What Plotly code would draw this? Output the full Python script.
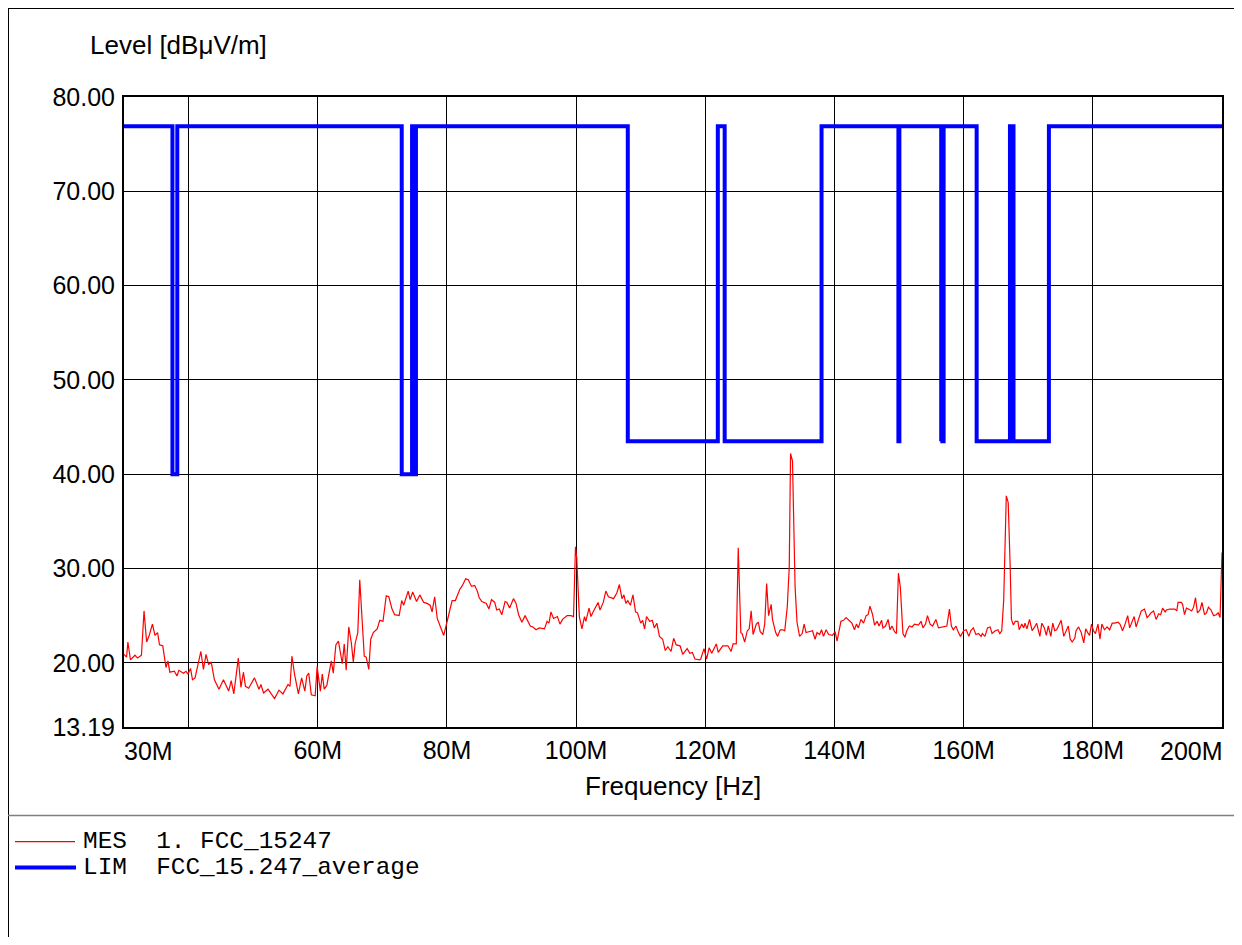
import plotly.graph_objects as go

# ---------------- data ----------------
freq_mhz = [
    30.0, 30.4, 30.6, 31.0, 31.7, 32.1, 32.7, 33.1, 33.5, 33.9, 34.4, 34.8, 35.2, 35.5, 36.0, 36.5, 36.8, 37.1,
    37.8, 38.2, 38.5, 39.2, 39.6, 39.9, 40.3, 40.6, 41.0, 41.5, 41.9, 42.3, 42.7, 43.1, 43.5, 44.0, 44.7, 45.4,
    46.2, 46.6, 47.0, 47.7, 48.1, 48.5, 48.8, 49.3, 50.2, 50.9, 51.2, 51.6, 52.3, 53.3, 54.0, 54.6, 55.4, 55.7,
    56.0, 56.4, 57.0, 57.5, 58.0,
    58.3, 58.6, 59.0, 59.6, 59.9, 60.4, 60.7, 61.0, 61.4, 62.1, 62.4, 62.8, 63.2, 63.8, 64.1, 64.4, 64.8, 65.2,
    65.5, 65.8, 66.2, 66.5, 67.2, 67.5, 67.9, 68.2, 68.6, 69.2, 69.6, 70.1, 70.6, 71.0, 71.5, 71.9, 72.6, 73.0,
    73.3, 74.0, 74.3, 74.7, 75.3, 75.8, 76.4, 76.9, 77.4, 77.7, 78.1, 78.5, 79.0, 79.5, 80.0, 80.8, 81.3, 82.0,
    82.4, 82.9, 83.3, 83.8, 84.3, 84.7,
    85.0, 85.4, 86.1, 86.5, 86.9, 87.4, 87.7, 88.1, 88.5, 89.0, 89.3, 89.7, 90.3, 90.7, 91.1, 91.6, 92.1, 92.4,
    92.9, 93.3, 93.8, 94.3, 95.1, 95.5, 95.8, 96.1, 96.5, 97.1, 97.5, 97.9, 98.6, 99.2, 99.6, 99.9, 100.1, 100.5,
    100.9, 101.3, 101.5, 102.0, 102.3, 102.7, 103.4, 103.7, 104.2, 104.6, 105.0, 105.8, 106.3, 106.7, 107.1,
    107.4, 107.7, 108.0, 108.4, 108.8, 109.2, 109.5, 110.0, 110.3, 110.6, 110.9, 111.4, 111.8, 112.1, 112.5,
    112.9, 113.4, 113.8, 114.2, 114.7, 115.1, 115.5, 116.1, 116.5, 117.2, 117.6, 118.0, 118.4, 119.1, 119.3,
    119.8, 120.2, 120.6, 121.0, 121.7, 122.0, 122.7, 123.5, 124.0, 124.3, 124.8, 125.1, 125.5, 125.7, 126.1,
    126.5, 126.8, 127.1, 127.4, 127.9, 128.2, 128.5, 128.9, 129.2, 129.5, 129.8, 130.2, 130.4, 130.9, 131.2,
    131.6, 132.0, 132.3, 132.7, 133.0, 133.2, 133.5, 133.9, 134.2, 134.6, 135.0, 135.3, 135.6, 136.6, 137.0,
    137.3, 137.7, 138.0, 138.3, 138.7, 139.1, 139.7, 140.1, 140.4,
    141.0, 141.4, 141.8, 142.3, 142.7, 143.1, 143.4, 143.7, 144.1, 144.5, 144.9, 145.2, 145.5, 145.9, 146.2,
    146.6, 146.9, 147.3, 147.5, 147.9, 148.3, 148.6, 148.9, 149.3, 149.6, 149.9, 150.2, 150.6, 150.9, 151.2,
    151.6, 152.0, 152.4, 153.0, 153.4, 153.7, 154.1, 154.4, 154.8, 155.2, 155.7, 156.1, 156.7, 157.4, 157.8,
    158.1, 158.4, 158.8, 159.2, 159.5, 160.0, 160.4, 160.8, 161.1, 161.5, 161.9, 162.3, 162.7, 162.9, 163.3,
    163.7, 164.1, 164.4, 164.9, 165.3, 165.6, 165.9, 166.2, 166.6, 166.9, 167.2, 167.4, 167.7, 168.0, 168.4,
    168.6, 169.0, 169.3, 169.5, 169.8,
    170.2, 170.6, 171.0, 171.3, 171.8, 172.1, 172.5, 172.8, 173.1, 173.5, 173.8, 174.1, 174.4, 174.7, 175.1,
    175.5, 175.8, 176.2, 176.5, 176.8, 177.2, 177.4, 177.8, 178.2, 178.6, 178.9, 179.2, 179.5, 179.8, 180.1,
    180.4, 180.8, 181.1, 181.4, 181.8, 182.2, 182.6, 183.0, 183.4, 183.9, 184.2, 184.6, 185.0, 185.4, 185.7,
    186.0, 186.4, 186.7, 187.1, 187.5, 188.0, 188.4, 188.7, 189.0, 189.4, 189.8, 190.2, 190.5, 190.8, 191.2,
    191.4, 191.9, 192.4, 192.7, 193.0, 193.2, 193.7, 193.9, 194.2, 194.5, 194.8, 195.3, 195.6, 195.9, 196.2,
    196.6, 196.9, 197.3, 197.6, 197.9, 198.3, 198.7, 199.1, 199.4, 199.7, 200.0,
]
level_dbuv = [
    20.9, 20.6, 22.2, 20.3, 20.8, 20.5, 20.8, 25.5, 22.2, 22.9, 24.1, 22.9, 23.2, 21.9, 21.8, 19.5, 20.2, 19.0,
    19.1, 18.6, 19.2, 18.9, 19.1, 18.8, 19.4, 18.2, 18.4, 20.0, 21.2, 19.3, 20.9, 19.8, 20.1, 18.2, 17.2, 18.2,
    17.0, 18.1, 16.7, 20.5, 17.4, 19.0, 17.5, 17.3, 18.4, 17.2, 17.7, 16.8, 17.2, 16.2, 17.1, 16.7, 17.7, 17.5,
    20.7, 18.8, 16.7, 18.4, 17.0,
    18.6, 18.9, 16.6, 16.5, 19.6, 17.0, 18.8, 17.2, 17.6, 20.2, 18.9, 21.9, 22.3, 19.9, 22.0, 19.2, 23.8, 22.1,
    20.1, 22.1, 23.2, 28.8, 20.7, 20.6, 19.3, 22.5, 23.2, 23.6, 24.5, 24.4, 27.1, 27.0, 25.7, 25.1, 25.0, 26.6,
    26.1, 27.6, 26.7, 27.5, 26.5, 27.2, 26.4, 26.3, 26.1, 25.4, 27.0, 24.7, 23.8, 22.9, 24.3, 26.6, 26.6, 27.8,
    28.2, 28.9, 28.8, 28.1, 28.2, 27.6,
    26.9, 26.5, 26.3, 25.7, 26.7, 26.4, 25.6, 25.7, 25.1, 26.5, 26.4, 25.8, 26.8, 26.3, 25.1, 24.3, 25.0, 24.6,
    23.9, 23.8, 23.5, 23.7, 23.6, 24.4, 24.2, 25.4, 24.7, 24.9, 24.1, 24.6, 25.0, 25.0, 24.9, 32.3, 31.1, 24.9,
    23.6, 24.9, 24.4, 25.8, 24.9, 25.5, 26.4, 25.6, 26.4, 27.6, 27.0, 26.8, 27.4, 28.3, 26.8,
    27.2, 26.3, 26.6, 26.1, 27.2, 25.4, 25.3, 24.2, 24.5, 23.6, 24.9, 24.4, 24.5, 23.7, 24.2,
    22.8, 22.5, 21.3, 21.7, 21.2, 22.6, 21.9, 21.8, 20.9, 21.5, 21.0, 21.1, 20.4, 20.3, 20.4,
    21.5, 20.4, 21.6, 21.0, 22.0, 21.1, 21.8, 21.8, 21.2, 22.0, 22.0, 32.2, 23.2, 23.1, 22.2,
    23.4, 23.6, 25.5, 23.0, 24.1, 24.3, 23.3, 23.0, 24.1, 28.4, 25.0, 26.2, 24.6, 23.2, 22.8,
    23.5, 23.5, 23.4, 26.0, 30.2, 42.2, 41.4, 28.1, 24.3, 22.8, 23.1, 24.1, 23.2, 23.4, 22.5,
    23.2, 23.0, 23.5, 22.8, 23.5, 23.0, 22.9, 23.3, 22.3,
    24.4, 24.5, 24.8, 24.4, 24.2, 23.5, 24.1, 23.7, 24.6, 24.2, 25.0, 25.1, 26.0, 25.1, 24.0,
    24.4, 23.9, 24.5, 23.7, 23.9, 24.6, 23.5, 23.9, 23.3, 23.1, 29.5, 28.0, 23.1, 22.7, 23.4,
    23.9, 23.8, 24.1, 24.0, 24.4, 23.7, 24.1, 25.0, 24.1, 23.9, 24.6, 23.7, 23.8, 23.9, 25.7,
    23.9, 23.5, 23.9, 23.2, 22.8, 23.4, 23.5, 22.8, 23.4, 23.7, 23.0, 23.1, 22.8, 23.1, 22.8,
    23.7, 23.8, 23.1, 23.4, 23.5, 23.1, 23.4, 26.6, 37.7, 37.0, 30.3, 24.6, 24.0, 24.4, 24.4,
    23.5, 24.1, 23.7, 24.2, 23.6,
    24.6, 23.4, 23.8, 24.2, 22.8, 24.2, 23.7, 22.9, 23.9, 22.8, 24.2, 23.4, 23.5, 23.9, 24.5,
    22.8, 23.2, 23.9, 22.5, 22.2, 22.6, 23.4, 23.8, 23.2, 22.1, 23.6, 23.2, 22.9, 24.1, 23.4,
    23.1, 24.1, 22.5, 24.1, 23.5, 23.8, 23.5, 24.2, 24.2, 24.3, 24.1, 23.4, 24.1, 25.0, 23.7,
    24.2, 24.9, 23.8, 24.8, 25.5, 25.7, 24.8, 25.0, 25.3, 25.5, 24.6, 25.2, 25.1, 25.8, 25.4,
    25.6, 25.7, 25.7, 25.7, 25.5, 26.4, 26.4, 26.2, 25.1, 25.8, 25.7, 25.5, 25.9, 26.9, 25.3,
    25.6, 26.4, 25.1, 25.3, 25.9, 25.6, 25.0, 25.1, 25.3, 24.8, 31.7,
]

# limit line (FCC 15.247 average, restricted bands)
limit_top = 76.9
band_start = [37.5, 73.0, 74.8, 108.0, 123.0, 149.9, 156.52475, 156.7, 162.0125, 167.72]
band_stop = [38.25, 74.6, 75.2, 121.94, 138.0, 150.05, 156.52525, 156.9, 167.17, 173.2]
band_level = [40.0, 40.0, 40.0, 43.5, 43.5, 43.5, 43.5, 43.5, 43.5, 43.5]

x_range = [30, 200]
y_range = [13.19, 80]
y_tick_vals = [13.19, 20, 30, 40, 50, 60, 70, 80]
y_tick_text = ["13.19", "20.00", "30.00", "40.00", "50.00", "60.00", "70.00", "80.00"]
x_grid_vals = [40, 60, 80, 100, 120, 140, 160, 180]
x_tick_text = ["", "60M", "80M", "100M", "120M", "140M", "160M", "180M"]
x_edge_vals = [30, 200]
x_edge_text = ["30M", "200M"]
x_edge_anchor = ["left", "right"]
x_edge_shift = [-2, 3]

legend_names = ["MES\u00a0\u00a01.\u00a0FCC_15247", "LIM\u00a0\u00a0FCC_15.247_average"]

# ---------------- layout geometry ----------------
W, H = 1234, 929
ML, MR, MT, MB = 116, 20, 89, 210
PW, PH = W - ML - MR, H - MT - MB


def pxx(x):
    return (x - ML) / PW


def pyy(y):
    return (H - MB - y) / PH


# build limit polyline
lim_x = [x_range[0]]
lim_y = [limit_top]
for a, b, lev in zip(band_start, band_stop, band_level):
    lim_x += [a, a, b, b]
    lim_y += [limit_top, lev, lev, limit_top]
lim_x.append(x_range[1])
lim_y.append(limit_top)

SANS = "Liberation Sans, Arial, sans-serif"
MONO = "Liberation Mono, Courier New, monospace"

fig = go.Figure()
fig.add_trace(go.Scatter(x=freq_mhz, y=level_dbuv, mode="lines",
                         line=dict(color="#ff0000", width=1.2), showlegend=False))
fig.add_trace(go.Scatter(x=lim_x, y=lim_y, mode="lines",
                         line=dict(color="#0000ff", width=4), showlegend=False))

axis_common = dict(showgrid=True, gridcolor="#000000", gridwidth=1, zeroline=False,
                   showline=True, mirror=True, linecolor="#000000", linewidth=2,
                   ticks="", tickfont=dict(family=SANS, size=25, color="#000000"))

fig.update_xaxes(range=x_range, tickmode="array", tickvals=x_grid_vals, ticktext=x_tick_text,
                 ticklabelstandoff=0, **axis_common)
fig.update_yaxes(range=y_range, tickmode="array", tickvals=y_tick_vals, ticktext=y_tick_text,
                 ticklabelstandoff=2, **axis_common)

annotations = []
for xv, txt, anc, sh in zip(x_edge_vals, x_edge_text, x_edge_anchor, x_edge_shift):
    annotations.append(dict(x=xv, xref="x", y=0, yref="paper", text=txt, showarrow=False,
                            xanchor=anc, yanchor="middle", yshift=-23.5, xshift=sh,
                            font=dict(family=SANS, size=25, color="#000000")))
annotations.append(dict(x=pxx(80), y=pyy(37), xref="paper", yref="paper", text="Level [dBμV/m]",
                        showarrow=False, xanchor="left", yanchor="middle",
                        font=dict(family=SANS, size=26, color="#000000")))
annotations.append(dict(x=0.5, y=pyy(778), xref="paper", yref="paper", text="Frequency [Hz]",
                        showarrow=False, xanchor="center", yanchor="middle",
                        font=dict(family=SANS, size=26, color="#000000")))
leg_y = [833.6, 859.3]
for name, yy in zip(legend_names, leg_y):
    annotations.append(dict(x=pxx(73), y=pyy(yy), xref="paper", yref="paper", text=name,
                            showarrow=False, xanchor="left", yanchor="middle",
                            font=dict(family=MONO, size=24.4, color="#000000")))

shapes = [
    # outer frame (top and left)
    dict(type="line", xref="paper", yref="paper", x0=pxx(0), x1=pxx(W), y0=pyy(0.5), y1=pyy(0.5),
         line=dict(color="#000000", width=1)),
    dict(type="line", xref="paper", yref="paper", x0=pxx(0.5), x1=pxx(0.5), y0=pyy(0), y1=pyy(H),
         line=dict(color="#000000", width=1)),
    # separator above legend
    dict(type="line", xref="paper", yref="paper", x0=pxx(0), x1=pxx(W), y0=pyy(807.5), y1=pyy(807.5),
         line=dict(color="#808080", width=1.5)),
    # legend samples
    dict(type="line", xref="paper", yref="paper", x0=pxx(7), x1=pxx(67), y0=pyy(833.7), y1=pyy(833.7),
         line=dict(color="#ff0000", width=1.2)),
    dict(type="line", xref="paper", yref="paper", x0=pxx(7), x1=pxx(68), y0=pyy(859.5), y1=pyy(859.5),
         line=dict(color="#0000ff", width=4)),
]

fig.update_layout(width=W, height=H, autosize=False,
                  margin=dict(l=ML, r=MR, t=MT, b=MB, pad=0),
                  paper_bgcolor="#ffffff", plot_bgcolor="#ffffff",
                  showlegend=False, annotations=annotations, shapes=shapes,
                  font=dict(family=SANS, color="#000000"))

fig.write_html("out.html")
